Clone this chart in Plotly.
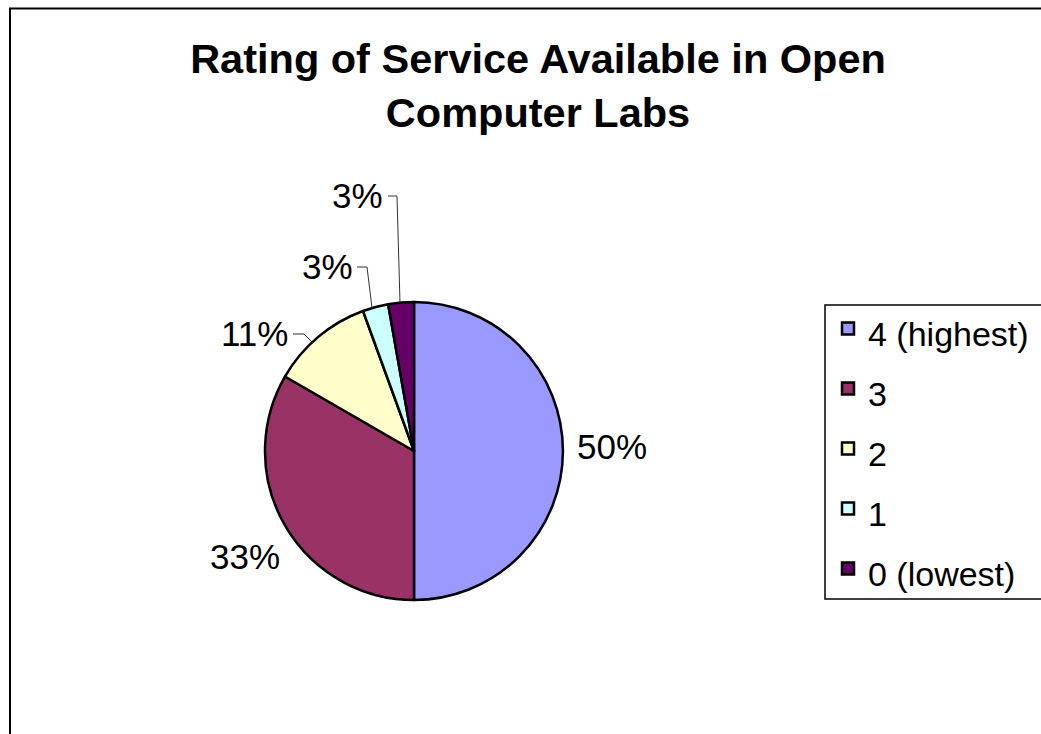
import plotly.graph_objects as go

W, H = 1041, 734

categories = ["4 (highest)", "3", "2", "1", "0 (lowest)"]
counts = [18, 12, 4, 1, 1]
colors = ["#9999FF", "#993366", "#FFFFCC", "#CCFFFF", "#660066"]
title_text = "Rating of Service Available in Open<br>Computer Labs"

# label placement (window pixels) and leader-line elbows, per slice
label_pos = [(612, 446), (245, 556), (254, 334), (327, 266), (357, 195)]
leader_paths = [
    None,
    None,
    [(293, 334), (304, 334), (313, 343)],
    [(357, 267), (367, 267), (372, 308)],
    [(388, 196), (397, 196), (400, 303)],
]


def px_x(x):
    return x / W


def px_y(y):
    return 1 - y / H


# pie geometry (window pixels)
cx, cy, r = 414, 451, 149

legend_labels = ['<span style="font-size:34px">%s</span>' % c for c in categories]

total = sum(counts)
pct_text = ["%d%%" % round(100.0 * v / total) for v in counts]

fig = go.Figure(
    go.Pie(
        labels=legend_labels,
        values=counts,
        sort=False,
        direction="clockwise",
        rotation=0,
        marker=dict(colors=colors, line=dict(color="#000000", width=2.5)),
        textinfo="none",
        domain=dict(x=[px_x(cx - r), px_x(cx + r)], y=[px_y(cy + r), px_y(cy - r)]),
        hoverinfo="label+percent",
    )
)

annotations = []
for (lx, ly), t in zip(label_pos, pct_text):
    annotations.append(dict(
        x=px_x(lx), y=px_y(ly), xref="paper", yref="paper",
        text=t, showarrow=False, xanchor="center", yanchor="middle",
        font=dict(family="Liberation Sans, Arial, sans-serif", size=35, color="#000000"),
    ))

shapes = [
    # outer chart frame (right and bottom edges fall outside the picture)
    dict(type="rect", xref="paper", yref="paper",
         x0=px_x(10), x1=px_x(1090), y0=px_y(800), y1=px_y(8.5),
         line=dict(color="#000000", width=2), fillcolor="rgba(0,0,0,0)", layer="below"),
    # legend frame
    dict(type="rect", xref="paper", yref="paper",
         x0=px_x(825), x1=px_x(1090), y0=px_y(599), y1=px_y(305),
         line=dict(color="#000000", width=1.5), fillcolor="rgba(0,0,0,0)", layer="below"),
]
for pts in leader_paths:
    if not pts:
        continue
    path = "M " + " L ".join("%.5f,%.5f" % (px_x(x), px_y(y)) for x, y in pts)
    shapes.append(dict(type="path", xref="paper", yref="paper", path=path,
                       line=dict(color="#333333", width=1)))

fig.update_layout(
    width=W,
    height=H,
    margin=dict(l=0, r=0, t=0, b=0),
    paper_bgcolor="#FFFFFF",
    plot_bgcolor="#FFFFFF",
    font=dict(family="Liberation Sans, Arial, sans-serif", color="#000000"),
    title=dict(
        text=title_text,
        x=538 / W,
        xanchor="center",
        y=1 - 73 / H,
        yanchor="top",
        font=dict(family="Liberation Sans, Arial, sans-serif", size=41.5, color="#000000", weight="bold"),
    ),
    showlegend=True,
    legend=dict(
        x=px_x(828),
        xanchor="left",
        y=px_y(293.5),
        yanchor="top",
        font=dict(family="Liberation Sans, Arial, sans-serif", size=43.85, color="#000000"),
        bgcolor="rgba(0,0,0,0)",
        borderwidth=0,
        traceorder="normal",
    ),
    annotations=annotations,
    shapes=shapes,
)

fig.write_html(
    "out.html",
    config={"displayModeBar": False},
    post_script="document.body.style.margin='0';document.body.style.overflow='hidden';",
)
